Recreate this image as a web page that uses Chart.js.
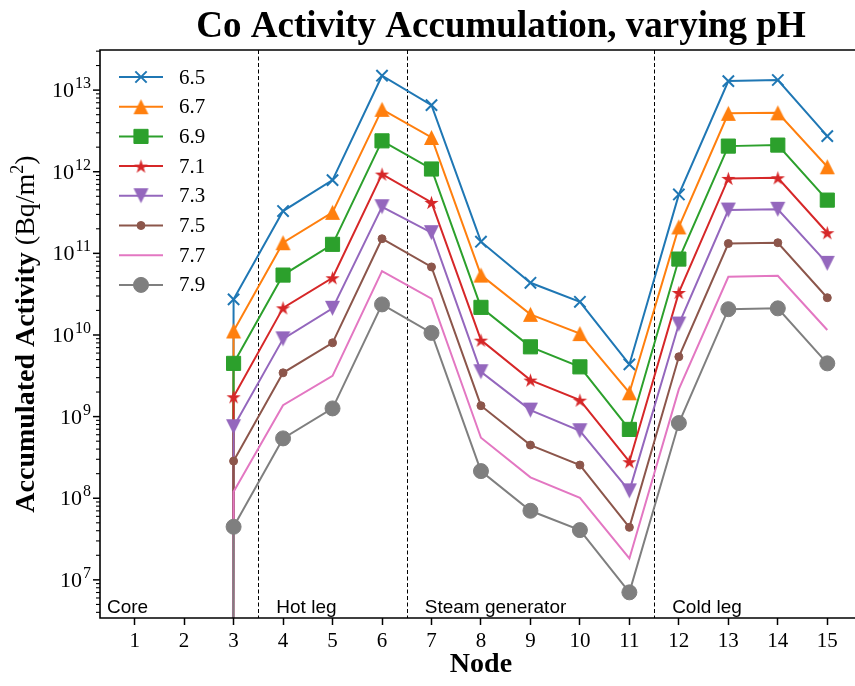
<!DOCTYPE html>
<html>
<head>
<meta charset="utf-8">
<script src="https://cdn.jsdelivr.net/npm/chart.js@4.4.1/dist/chart.umd.min.js"></script>
<style>
  html, body { margin: 0; padding: 0; background: #fff; overflow: hidden; }
  #wrap { width: 855px; height: 686px; }
</style>
</head>
<body>
<div id="wrap"><canvas id="myChart" width="855" height="686"></canvas></div>
<script>
// node numbers along the loop
let nodes = [1, 2, 3, 4, 5, 6, 7, 8, 9, 10, 11, 12, 13, 14, 15];
let phLabels = ["6.5", "6.7", "6.9", "7.1", "7.3", "7.5", "7.7", "7.9"];

// accumulated activity per node, Bq/m^2 (core nodes 1-2 hold nothing)
let ph65 = [0, 0, 2.73e10, 3.30e11, 7.89e11, 1.50e13, 6.55e12, 1.39e11, 4.36e10, 2.55e10, 4.36e9, 5.27e11, 1.29e13, 1.33e13, 2.73e12];
let ph67 = [0, 0, 1.12e10, 1.35e11, 3.18e11, 5.81e12, 2.63e12, 5.42e10, 1.79e10, 1.04e10, 1.96e9, 2.11e11, 5.19e12, 5.27e12, 1.15e12];
let ph69 = [0, 0, 4.49e9, 5.42e10, 1.29e11, 2.39e12, 1.08e12, 2.18e10, 7.16e9, 4.07e9, 6.97e8, 8.51e10, 2.06e12, 2.12e12, 4.49e11];
let ph71 = [0, 0, 1.75e9, 2.15e10, 5.02e10, 9.35e11, 4.21e11, 8.65e9, 2.80e9, 1.59e9, 2.80e8, 3.32e10, 8.28e11, 8.43e11, 1.79e11];
let ph73 = [0, 0, 7.50e8, 8.96e9, 2.12e10, 3.72e11, 1.79e11, 3.54e9, 1.20e9, 6.70e8, 1.23e8, 1.36e10, 3.39e11, 3.46e11, 7.53e10];
let ph75 = [0, 0, 2.85e8, 3.44e9, 8.02e9, 1.51e11, 6.82e10, 1.36e9, 4.48e8, 2.55e8, 4.40e7, 5.41e9, 1.32e11, 1.35e11, 2.86e10];
let ph77 = [0, 0, 1.20e8, 1.38e9, 3.16e9, 6.07e10, 2.79e10, 5.51e8, 1.80e8, 1.01e8, 1.83e7, 2.17e9, 5.16e10, 5.31e10, 1.15e10];
let ph79 = [0, 0, 4.47e7, 5.41e8, 1.26e9, 2.37e10, 1.06e10, 2.15e8, 7.02e7, 4.07e7, 7.03e6, 8.34e8, 2.07e10, 2.12e10, 4.49e9];
let allSeries = [ph65, ph67, ph69, ph71, ph73, ph75, ph77, ph79];

// loop sections and where they split
let sections = ["Core", "Hot leg", "Steam generator", "Cold leg"];
let dividers = [3.5, 6.5, 11.5];

var colors = ["#1f77b4", "#ff7f0e", "#2ca02c", "#d62728", "#9467bd", "#8c564b", "#e377c2", "#7f7f7f"];

const SERIF = '"Liberation Serif", "DejaVu Serif", serif';
const SANS = '"Liberation Sans", Arial, sans-serif';

// small canvases for the markers chart.js has no shape for
function triangleMarker(size, color) {
    var c = document.createElement('canvas');
    c.width = c.height = size + 2;
    var g = c.getContext('2d');
    var m = (size + 2) / 2, h = size / 2;
    g.beginPath();
    g.moveTo(m, m - h);
    g.lineTo(m - h, m + h);
    g.lineTo(m + h, m + h);
    g.closePath();
    g.fillStyle = color;
    g.fill();
    return c;
}
function starMarker(r, color) {
    var c = document.createElement('canvas');
    var s = Math.ceil(r * 2 + 2);
    c.width = c.height = s;
    var g = c.getContext('2d');
    g.translate(s / 2, s / 2 + r * 0.1);
    g.beginPath();
    for (var i = 0; i < 10; i++) {
        var rr = i % 2 ? r * 0.382 : r;
        var ang = -Math.PI / 2 + i * Math.PI / 5;
        g.lineTo(rr * Math.cos(ang), rr * Math.sin(ang));
    }
    g.closePath();
    g.fillStyle = color;
    g.fill();
    return c;
}

var markers = [
    {pointStyle: 'crossRot', radius: 8, rotation: 0},
    {pointStyle: triangleMarker(15, colors[1]), radius: 7, rotation: 0},
    {pointStyle: 'rect', radius: 10, rotation: 0},
    {pointStyle: starMarker(7.5, colors[3]), radius: 7, rotation: 0},
    {pointStyle: triangleMarker(15, colors[4]), radius: 7, rotation: 180},
    {pointStyle: 'circle', radius: 4, rotation: 0},
    {pointStyle: 'circle', radius: 0, rotation: 0},
    {pointStyle: 'circle', radius: 7.5, rotation: 0}
];

// a zero has no place on a log axis: send it far below so the line drops straight down
function toPoints(values) {
    return values.map(function (v, i) {
        return {x: nodes[i], y: v > 0 ? v : 1e-300};
    });
}

var datasets = allSeries.map(function (values, i) {
    return {
        label: phLabels[i],
        data: toPoints(values),
        borderColor: colors[i],
        backgroundColor: colors[i],
        borderWidth: 2,
        pointStyle: markers[i].pointStyle,
        pointRadius: markers[i].radius,
        pointRotation: markers[i].rotation,
        pointBorderWidth: i === 0 ? 2 : 1,
        pointBorderColor: colors[i],
        pointBackgroundColor: colors[i],
        tension: 0,
        fill: false,
        order: allSeries.length - 1 - i
    };
});

function line(ctx, x1, y1, x2, y2) {
    ctx.beginPath();
    ctx.moveTo(x1, y1);
    ctx.lineTo(x2, y2);
    ctx.stroke();
}

// section dividers and their names, under the curves
const sectionPlugin = {
    id: 'sections',
    beforeDatasetsDraw: function (chart) {
        var ctx = chart.ctx, a = chart.chartArea, xs = chart.scales.x;
        ctx.save();
        ctx.strokeStyle = '#000';
        ctx.lineWidth = 1;
        ctx.setLineDash([4, 2.5]);
        dividers.forEach(function (d) {
            var px = Math.round(xs.getPixelForValue(d)) + 0.5;
            line(ctx, px, a.top, px, a.bottom);
        });
        ctx.setLineDash([]);
        ctx.fillStyle = '#000';
        ctx.font = '19px ' + SANS;
        ctx.textBaseline = 'alphabetic';
        ctx.textAlign = 'left';
        sections.forEach(function (name, i) {
            var px = i === 0 ? a.left + 7 : xs.getPixelForValue(dividers[i - 1]) + 18;
            ctx.fillText(name, px, a.bottom - 5);
        });
        ctx.restore();
    }
};

// spines, log ticks with 10^n labels, axis names and the legend
const decorPlugin = {
    id: 'decor',
    afterDraw: function (chart) {
        var ctx = chart.ctx, a = chart.chartArea, ys = chart.scales.y;
        ctx.save();
        ctx.strokeStyle = '#000';
        ctx.fillStyle = '#000';

        // the right spine falls past the edge of the page
        ctx.lineWidth = 1.6;
        ctx.beginPath();
        ctx.moveTo(a.right + 2, a.top);
        ctx.lineTo(a.left, a.top);
        ctx.lineTo(a.left, a.bottom);
        ctx.lineTo(a.right + 2, a.bottom);
        ctx.stroke();

        var e0 = Math.floor(Math.log10(ys.min)), e1 = Math.ceil(Math.log10(ys.max));
        for (var e = e0; e <= e1; e++) {
            for (var k = 1; k < 10; k++) {
                var v = k * Math.pow(10, e);
                if (v < ys.min || v > ys.max) continue;
                var py = ys.getPixelForValue(v);
                ctx.lineWidth = k === 1 ? 1.5 : 1.1;
                line(ctx, a.left, py, a.left - (k === 1 ? 7 : 4), py);
                if (k === 1) {
                    var exp = String(e);
                    ctx.font = '16px ' + SERIF;
                    var we = ctx.measureText(exp).width;
                    ctx.textAlign = 'left';
                    ctx.textBaseline = 'alphabetic';
                    ctx.fillText(exp, a.left - 9 - we, py - 2);
                    ctx.font = '22px ' + SERIF;
                    ctx.textAlign = 'right';
                    ctx.fillText('10', a.left - 10 - we, py + 7);
                }
            }
        }

        // title
        ctx.font = 'bold 37px ' + SERIF;
        ctx.textAlign = 'center';
        ctx.textBaseline = 'alphabetic';
        ctx.fillText('Co Activity Accumulation, varying pH', 501, 37);

        // x axis name
        ctx.font = 'bold 28px ' + SERIF;
        ctx.textBaseline = 'middle';
        ctx.fillText('Node', chart.scales.x.getPixelForValue(8), 665);

        // y axis name, bold words then the unit
        ctx.save();
        ctx.translate(25, (a.top + a.bottom) / 2);
        ctx.rotate(-Math.PI / 2);
        var parts = [
            {t: 'Accumulated Activity ', f: 'bold 28px ' + SERIF, dy: 0},
            {t: '(Bq/m', f: '28px ' + SERIF, dy: 0},
            {t: '2', f: '18px ' + SERIF, dy: -11},
            {t: ')', f: '28px ' + SERIF, dy: 0}
        ];
        var total = 0;
        parts.forEach(function (p) { ctx.font = p.f; p.w = ctx.measureText(p.t).width; total += p.w; });
        var cx = -total / 2;
        ctx.textAlign = 'left';
        ctx.textBaseline = 'alphabetic';
        parts.forEach(function (p) {
            ctx.font = p.f;
            ctx.fillText(p.t, cx, 9 + p.dy);
            cx += p.w;
        });
        ctx.restore();

        // legend
        ctx.font = '21px ' + SERIF;
        ctx.textAlign = 'left';
        ctx.textBaseline = 'middle';
        chart.data.datasets.forEach(function (ds, i) {
            var y = 77 + i * 29.7;
            ctx.strokeStyle = ds.borderColor;
            ctx.lineWidth = ds.borderWidth;
            line(ctx, 119, y, 163, y);
            if (ds.pointRadius > 0) {
                ctx.fillStyle = ds.pointBackgroundColor;
                ctx.strokeStyle = ds.pointBorderColor;
                ctx.lineWidth = ds.pointBorderWidth;
                Chart.helpers.drawPoint(ctx, {pointStyle: ds.pointStyle, radius: ds.pointRadius, rotation: ds.pointRotation, borderWidth: ds.pointBorderWidth}, 141, y);
            }
            ctx.fillStyle = '#000';
            ctx.fillText(ds.label, 179, y + 1);
        });
        ctx.restore();
    }
};

new Chart("myChart", {
    type: "line",
    data: {datasets: datasets},
    options: {
        responsive: false,
        animation: false,
        devicePixelRatio: 1,
        // no extra room for marker overflow, the plot runs to the right edge
        layout: {autoPadding: false, padding: {top: 50, right: 0, left: 0, bottom: 0}},
        plugins: {legend: {display: false}, tooltip: {enabled: false}},
        scales: {
            x: {
                type: 'linear',
                min: 0.3,
                max: 15.56,
                afterBuildTicks: function (s) { s.ticks = nodes.map(function (n) { return {value: n}; }); },
                afterFit: function (s) { s.height = 68; s.paddingLeft = 0; s.paddingRight = 0; },
                grid: {display: true, drawOnChartArea: false, tickLength: 7, tickWidth: 1.5, tickColor: '#000'},
                border: {display: false},
                ticks: {color: '#000', font: {family: SERIF, size: 21}, padding: 4, maxRotation: 0, autoSkip: false}
            },
            y: {
                type: 'logarithmic',
                min: 3.41e6,
                max: 3.1e13,
                afterFit: function (s) { s.width = 100; },
                grid: {display: false},
                border: {display: false},
                ticks: {display: false}
            }
        }
    },
    plugins: [sectionPlugin, decorPlugin]
});
</script>
</body>
</html>
